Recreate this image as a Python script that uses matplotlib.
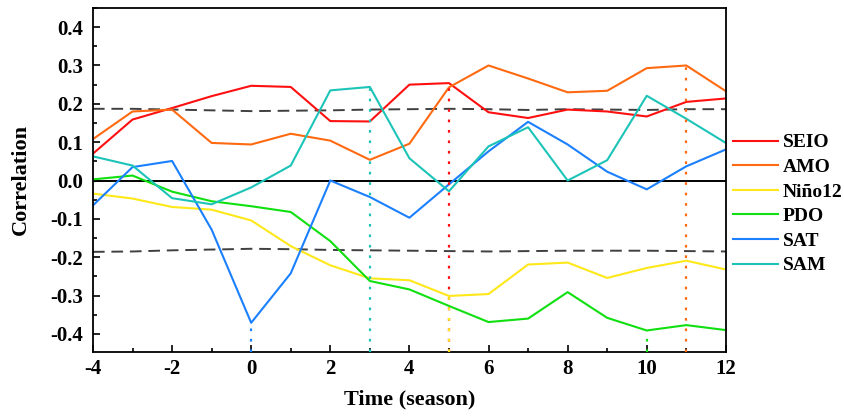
import numpy as np
import matplotlib
matplotlib.use('Agg')
import matplotlib.pyplot as plt
from matplotlib.ticker import MultipleLocator

plt.rcParams['font.family'] = 'Liberation Serif'
plt.rcParams['font.weight'] = 'bold'

# data
season = [-4, -3, -2, -1, 0, 1, 2, 3, 4, 5, 6, 7, 8, 9, 10, 11, 12]

seio = [0.070, 0.159, 0.189, 0.220, 0.247, 0.244, 0.155, 0.154, 0.250, 0.254,
        0.178, 0.163, 0.185, 0.180, 0.167, 0.205, 0.214]
amo = [0.108, 0.180, 0.185, 0.098, 0.094, 0.122, 0.104, 0.054, 0.096, 0.243,
       0.300, 0.266, 0.230, 0.234, 0.293, 0.300, 0.233]
nino12 = [-0.034, -0.047, -0.069, -0.076, -0.104, -0.171, -0.221, -0.255, -0.260, -0.301,
          -0.296, -0.219, -0.214, -0.254, -0.228, -0.209, -0.232]
pdo = [0.003, 0.013, -0.029, -0.054, -0.067, -0.082, -0.158, -0.262, -0.284, -0.327,
       -0.369, -0.360, -0.291, -0.358, -0.391, -0.377, -0.390]
sat = [-0.065, 0.035, 0.051, -0.128, -0.371, -0.242, 0.000, -0.043, -0.097, -0.010,
       0.076, 0.153, 0.094, 0.023, -0.023, 0.037, 0.081]
sam = [0.063, 0.039, -0.046, -0.062, -0.018, 0.039, 0.235, 0.244, 0.058, -0.028,
       0.089, 0.139, 0.000, 0.053, 0.221, 0.161, 0.098]

sig_upper = [0.187, 0.187, 0.185, 0.183, 0.181, 0.182, 0.183, 0.185, 0.186, 0.187,
             0.186, 0.184, 0.186, 0.185, 0.184, 0.186, 0.186]
sig_lower = [-0.186, -0.185, -0.182, -0.180, -0.178, -0.179, -0.181, -0.182, -0.183, -0.184,
             -0.185, -0.184, -0.183, -0.183, -0.183, -0.184, -0.185]

names = ['SEIO', 'AMO', 'Niño12', 'PDO', 'SAT', 'SAM']
series = [seio, amo, nino12, pdo, sat, sam]
colors = ['#FF1010', '#FF6A10', '#FFE81A', '#10E010', '#1A80FF', '#1CC4B8']

# season of the strongest correlation for each index (dotted markers)
peak_season = {'SEIO': 5, 'AMO': 11, 'Niño12': 5, 'PDO': 10, 'SAT': 0, 'SAM': 3}

fig = plt.figure(figsize=(8.45, 4.18), dpi=100)
ax = fig.add_axes([0.110, 0.158, 0.749, 0.823])

ymin, ymax = -0.447, 0.45

ax.axhline(0, color='black', lw=1.4, zorder=1)
ax.plot(season, sig_upper, color='#404040', lw=1.4, ls=(0, (6, 3.5)), zorder=1)
ax.plot(season, sig_lower, color='#404040', lw=1.4, ls=(0, (6, 3.5)), zorder=1)

for name, vals, c in zip(names, series, colors):
    ax.plot(season, vals, color=c, lw=1.5, label=name, zorder=2)

# dotted drop lines from the peak values
for name, vals, c in zip(names, series, colors):
    s = peak_season[name]
    v = vals[season.index(s)]
    ax.plot([s, s], [ymin, v], color=c, lw=1.6, ls=(0, (1.2, 3.5)), zorder=3)

ax.set_xlim(-4, 12)
ax.set_ylim(ymin, ymax)
ax.xaxis.set_major_locator(MultipleLocator(2))
ax.xaxis.set_minor_locator(MultipleLocator(1))
ax.yaxis.set_major_locator(MultipleLocator(0.1))
ax.yaxis.set_minor_locator(MultipleLocator(0.05))
ax.yaxis.set_major_formatter(plt.FuncFormatter(lambda v, p: '%.1f' % v))
ax.xaxis.set_major_formatter(plt.FuncFormatter(lambda v, p: '%d' % v))
ax.tick_params(which='both', direction='in', width=1.2, labelsize=15, top=False, right=False)
ax.tick_params(which='major', length=5)
ax.tick_params(axis='x', which='major', pad=5)
ax.tick_params(axis='y', which='major', pad=7)
ax.tick_params(which='minor', length=3)
for sp in ax.spines.values():
    sp.set_linewidth(1.3)

ax.set_xlabel('Time (season)', fontsize=16, fontweight='bold')
ax.set_ylabel('Correlation', fontsize=16, fontweight='bold')
ax.xaxis.set_label_coords(0.5, -0.108)
ax.yaxis.set_label_coords(-0.098, 0.5)

fig.legend(loc='upper left', bbox_to_anchor=(0.8675, 0.680), frameon=False,
           borderpad=0, borderaxespad=0, handlelength=2.3, handletextpad=0.26,
           labelspacing=0.36, prop={'weight': 'bold', 'size': 14})

fig.savefig('out.png', dpi=100)
